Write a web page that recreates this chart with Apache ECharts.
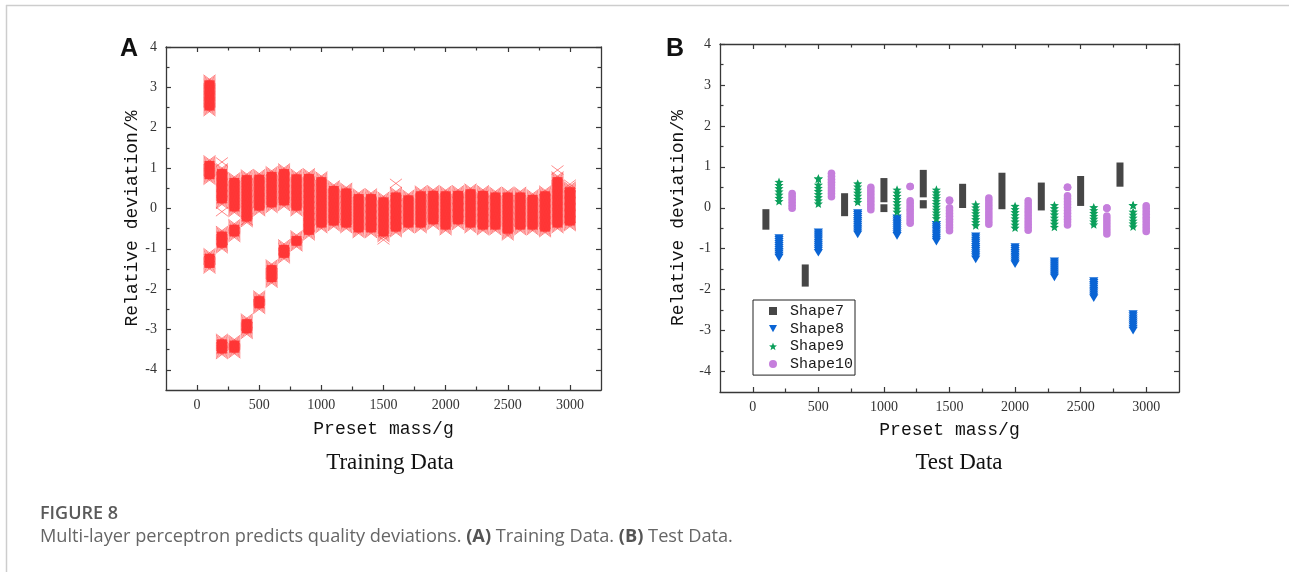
<!DOCTYPE html>
<html>
<head>
<meta charset="utf-8">
<title>Multi-layer perceptron deviations</title>
<script src="https://cdn.jsdelivr.net/npm/echarts@6/dist/echarts.min.js"></script>
<style>
  html, body { margin: 0; padding: 0; background: #ffffff; }
  #chart { width: 1289px; height: 572px; }
</style>
</head>
<body>
<div id="chart"></div>
<script>
// Axis ticks (preset mass in g, relative deviation in %)
const massTicks = [0, 500, 1000, 1500, 2000, 2500, 3000];
const massMinorTicks = [250, 750, 1250, 1750, 2250, 2750];
const devTicks = [-4, -3, -2, -1, 0, 1, 2, 3, 4];
const devMinorTicks = [-3.5, -2.5, -1.5, -0.5, 0.5, 1.5, 2.5, 3.5];

// Training data: each run of predictions at one preset mass, [mass, lowest, highest]
const trainRuns = [
  [100, 2.4, 3.2], [100, 0.7, 1.2], [100, -1.5, -1.1],
  [200, 0.1, 1.0], [200, -1.0, -0.55], [200, -3.62, -3.22],
  [300, -0.1, 0.78], [300, -0.72, -0.38], [300, -3.6, -3.25],
  [400, -0.35, 0.85], [400, -3.12, -2.72],
  [500, -0.08, 0.86], [500, -2.5, -2.15],
  [600, 0.0, 0.93], [600, -1.85, -1.38],
  [700, 0.05, 1.0], [700, -1.25, -0.88],
  [800, -0.08, 0.87], [800, -0.95, -0.66],
  [900, -0.68, 0.88],
  [1000, -0.5, 0.8], [1100, -0.45, 0.58], [1200, -0.5, 0.52],
  [1300, -0.62, 0.38], [1400, -0.62, 0.38], [1500, -0.72, 0.3],
  [1600, -0.6, 0.42], [1700, -0.5, 0.35], [1800, -0.5, 0.45],
  [1900, -0.42, 0.46], [2000, -0.55, 0.45], [2100, -0.42, 0.46],
  [2200, -0.5, 0.5], [2300, -0.55, 0.46], [2400, -0.55, 0.42],
  [2500, -0.65, 0.42], [2600, -0.55, 0.42], [2700, -0.55, 0.36],
  [2800, -0.6, 0.45], [2900, -0.5, 0.8], [3000, -0.45, 0.55]
];
// Isolated training predictions, [mass, deviation]
const trainStray = [
  [200, 1.15], [200, -0.08], [400, -0.3], [1500, -0.78], [1600, 0.62],
  [2500, -0.68], [2900, 0.95], [3000, 0.6]
];

// Test data runs per shape, [mass, lowest, highest]
const shape7Runs = [
  [100, -0.45, -0.12], [400, -1.84, -1.47], [700, -0.12, 0.27],
  [1000, 0.22, 0.64], [1000, -0.02, 0.0], [1300, 0.34, 0.84], [1300, 0.07, 0.1],
  [1600, 0.08, 0.5], [1900, 0.05, 0.77], [2200, 0.02, 0.53],
  [2500, 0.13, 0.69], [2800, 0.6, 1.02]
];
const shape8Runs = [
  [200, -1.21, -0.73], [500, -1.09, -0.59], [800, -0.64, -0.12],
  [1100, -0.68, -0.25], [1400, -0.82, -0.41], [1700, -1.25, -0.69],
  [2000, -1.37, -0.95], [2300, -1.69, -1.3], [2600, -2.2, -1.78],
  [2900, -2.99, -2.59]
];
const shape9Runs = [
  [200, 0.15, 0.62], [500, 0.09, 0.55], [500, 0.7, 0.7], [800, 0.13, 0.58],
  [1100, -0.11, 0.43], [1400, -0.27, 0.43], [1700, -0.44, 0.07],
  [2000, -0.5, 0.03], [2300, -0.48, 0.05], [2600, -0.42, 0.0],
  [2900, -0.47, -0.11], [2900, 0.05, 0.05]
];
const shape10Runs = [
  [300, -0.01, 0.35], [600, 0.27, 0.84], [900, -0.05, 0.5],
  [1200, -0.38, 0.17], [1200, 0.52, 0.52], [1500, -0.56, 0.0], [1500, 0.18, 0.18],
  [1800, -0.4, 0.24], [2100, -0.55, 0.17], [2400, -0.42, 0.29], [2400, 0.5, 0.5],
  [2700, -0.64, -0.2], [2700, -0.01, -0.01], [3000, -0.58, 0.05]
];

const AXIS_COLOR = '#383838';
const RED = 'rgba(255, 48, 48, 0.6)';
const COLORS = { shape7: '#464646', shape8: '#0a64d4', shape9: '#0b9f5b', shape10: '#c57edc' };
const MONO = 'Liberation Mono';
const SERIF = 'Liberation Serif';

function starPoints(cx, cy, R, r) {
  const pts = [];
  for (let i = 0; i < 10; i++) {
    const a = -Math.PI / 2 + i * Math.PI / 5;
    const rad = i % 2 === 0 ? R : r;
    pts.push([cx + rad * Math.cos(a), cy + rad * Math.sin(a)]);
  }
  return pts;
}
const starIcon = 'path://' + starPoints(10, 10, 10, 4.2)
  .map((p, i) => (i ? 'L' : 'M') + p[0].toFixed(2) + ',' + p[1].toFixed(2)).join('') + 'Z';

// Column of overlapping "x" markers between the low and high value of a run
function crossRun(params, api) {
  const x = api.value(0);
  const top = api.coord([x, api.value(2)]);
  const bot = api.coord([x, api.value(1)]);
  const cx = top[0];
  const span = bot[1] - top[1];
  const n = Math.max(1, Math.round(span / 1.2));
  const children = [];
  if (span > 4) {
    children.push({
      type: 'rect',
      shape: { x: cx - 5, y: top[1] + 1, width: 10, height: span - 2 },
      style: { fill: 'rgba(255, 45, 45, 0.88)' }
    });
  }
  for (let i = 0; i <= n; i++) {
    const cy = top[1] + span * i / n;
    children.push({ type: 'line', shape: { x1: cx - 6, y1: cy - 4.5, x2: cx + 6, y2: cy + 4.5 }, style: { stroke: RED, lineWidth: 1 } });
    children.push({ type: 'line', shape: { x1: cx + 6, y1: cy - 4.5, x2: cx - 6, y2: cy + 4.5 }, style: { stroke: RED, lineWidth: 1 } });
  }
  return { type: 'group', children };
}
function crossPoint(params, api) {
  const p = api.coord([api.value(0), api.value(1)]);
  const st = { stroke: 'rgba(255, 60, 60, 0.6)', lineWidth: 1 };
  return { type: 'group', children: [
    { type: 'line', shape: { x1: p[0] - 6, y1: p[1] - 4.5, x2: p[0] + 6, y2: p[1] + 4.5 }, style: st },
    { type: 'line', shape: { x1: p[0] + 6, y1: p[1] - 4.5, x2: p[0] - 6, y2: p[1] + 4.5 }, style: st }
  ] };
}

// Column of stacked symbols between the low and high value of a run
function stackRun(kind, color) {
  return function (params, api) {
    const x = api.value(0);
    const top = api.coord([x, api.value(2)]);
    const bot = api.coord([x, api.value(1)]);
    const cx = top[0];
    const span = bot[1] - top[1];
    const children = [];
    if (kind === 'square') {
      children.push({ type: 'rect', shape: { x: cx - 3.5, y: top[1] - 3.5, width: 7, height: span + 7 }, style: { fill: color } });
    } else {
      const step = kind === 'triangle' ? 2 : 3;
      const n = Math.max(1, Math.round(span / step));
      for (let i = 0; i <= n; i++) {
        const cy = top[1] + span * i / n;
        if (kind === 'circle') {
          children.push({ type: 'circle', shape: { cx, cy, r: 3.8 }, style: { fill: color } });
        } else if (kind === 'triangle') {
          children.push({ type: 'polygon', shape: { points: [[cx - 4.6, cy - 3.5], [cx + 4.6, cy - 3.5], [cx, cy + 4.2]] }, style: { fill: color } });
        } else {
          children.push({ type: 'polygon', shape: { points: starPoints(cx, cy, 4.8, 2.1) }, style: { fill: color } });
        }
      }
    }
    return { type: 'group', children };
  };
}

const tickLine = { color: AXIS_COLOR, width: 1.2 };
const axisLineOn = { show: true, onZero: false, lineStyle: { color: AXIS_COLOR, width: 1.3 } };
const axisLineOff = { show: false, onZero: false };
const tickLabel = { fontFamily: SERIF, fontSize: 14, color: '#333', formatter: (v) => String(v) };
const nameStyle = { fontFamily: MONO, fontSize: 18, color: '#111' };

function massAxes(grid, nameGap) {
  const base = { type: 'value', gridIndex: grid, min: -250, max: 3250, splitLine: { show: false } };
  return [
    Object.assign({}, base, {
      position: 'bottom', axisLine: axisLineOn,
      axisTick: { show: true, inside: true, length: 5, customValues: massTicks, lineStyle: tickLine },
      axisLabel: Object.assign({ show: true, customValues: massTicks, margin: 8 }, tickLabel),
      name: 'Preset mass/g', nameLocation: 'middle', nameGap, nameTextStyle: nameStyle
    }),
    Object.assign({}, base, {
      position: 'bottom', axisLine: axisLineOff,
      axisTick: { show: true, inside: true, length: 3.5, customValues: massMinorTicks, lineStyle: tickLine },
      axisLabel: { show: false }
    }),
    Object.assign({}, base, {
      position: 'top', axisLine: axisLineOn,
      axisTick: { show: true, inside: true, length: 5, customValues: massTicks, lineStyle: tickLine },
      axisLabel: { show: false }
    }),
    Object.assign({}, base, {
      position: 'top', axisLine: axisLineOff,
      axisTick: { show: true, inside: true, length: 3.5, customValues: massMinorTicks, lineStyle: tickLine },
      axisLabel: { show: false }
    })
  ];
}
function devAxes(grid, nameGap) {
  const base = { type: 'value', gridIndex: grid, min: -4.5, max: 4, splitLine: { show: false } };
  return [
    Object.assign({}, base, {
      position: 'left', axisLine: axisLineOn,
      axisTick: { show: true, inside: true, length: 5, customValues: devTicks, lineStyle: tickLine },
      axisLabel: Object.assign({ show: true, customValues: devTicks, margin: 9 }, tickLabel),
      name: 'Relative deviation/%', nameLocation: 'middle', nameGap, nameTextStyle: nameStyle
    }),
    Object.assign({}, base, {
      position: 'left', axisLine: axisLineOff,
      axisTick: { show: true, inside: true, length: 3.5, customValues: devMinorTicks, lineStyle: tickLine },
      axisLabel: { show: false }
    }),
    Object.assign({}, base, {
      position: 'right', axisLine: axisLineOn,
      axisTick: { show: true, inside: true, length: 5, customValues: devTicks, lineStyle: tickLine },
      axisLabel: { show: false }
    }),
    Object.assign({}, base, {
      position: 'right', axisLine: axisLineOff,
      axisTick: { show: true, inside: true, length: 3.5, customValues: devMinorTicks, lineStyle: tickLine },
      axisLabel: { show: false }
    })
  ];
}

const chart = echarts.init(document.getElementById('chart'), null, { renderer: 'canvas' });

chart.setOption({
  animation: false,
  backgroundColor: '#ffffff',
  grid: [
    { left: 166, top: 47, width: 435, height: 343, outerBoundsMode: 'none' },
    { left: 720, top: 44, width: 459, height: 348, outerBoundsMode: 'none' }
  ],
  xAxis: massAxes(0, 30).concat(massAxes(1, 29)),
  yAxis: devAxes(0, 23).concat(devAxes(1, 33)),
  legend: {
    left: 753, top: 300, orient: 'vertical',
    backgroundColor: '#ffffff', borderColor: '#222', borderWidth: 1, borderRadius: 0,
    padding: [3.5, 2, 3.5, 16], itemGap: 2.7, itemWidth: 8, itemHeight: 8,
    selectedMode: false,
    textStyle: { fontFamily: MONO, fontSize: 15, color: '#1a1a1a', padding: [0, 0, 0, 8] },
    data: [
      { name: 'Shape7', icon: 'path://M0,0H10V10H0Z' },
      { name: 'Shape8', icon: 'path://M0,0H10L5,9Z' },
      { name: 'Shape9', icon: starIcon },
      { name: 'Shape10', icon: 'path://M5,0A5,5,0,1,1,5,10A5,5,0,1,1,5,0Z' }
    ]
  },
  series: [
    { type: 'custom', name: 'Training runs', xAxisIndex: 0, yAxisIndex: 0, renderItem: crossRun, data: trainRuns, silent: true },
    { type: 'custom', name: 'Training stray', xAxisIndex: 0, yAxisIndex: 0, renderItem: crossPoint, data: trainStray, silent: true },
    { type: 'custom', name: 'Shape7', xAxisIndex: 4, yAxisIndex: 4, itemStyle: { color: COLORS.shape7 }, renderItem: stackRun('square', COLORS.shape7), data: shape7Runs, silent: true },
    { type: 'custom', name: 'Shape8', xAxisIndex: 4, yAxisIndex: 4, itemStyle: { color: COLORS.shape8 }, renderItem: stackRun('triangle', COLORS.shape8), data: shape8Runs, silent: true },
    { type: 'custom', name: 'Shape9', xAxisIndex: 4, yAxisIndex: 4, itemStyle: { color: COLORS.shape9 }, renderItem: stackRun('star', COLORS.shape9), data: shape9Runs, silent: true },
    { type: 'custom', name: 'Shape10', xAxisIndex: 4, yAxisIndex: 4, itemStyle: { color: COLORS.shape10 }, renderItem: stackRun('circle', COLORS.shape10), data: shape10Runs, silent: true }
  ],
  graphic: [
    // outer figure frame
    { type: 'line', silent: true, shape: { x1: 6, y1: 5.5, x2: 1289, y2: 5.5 }, style: { stroke: '#cdcdcd', lineWidth: 1.5 } },
    { type: 'line', silent: true, shape: { x1: 6.5, y1: 5, x2: 6.5, y2: 572 }, style: { stroke: '#cdcdcd', lineWidth: 1.5 } },
    // panel letters
    { type: 'text', silent: true, x: 120, y: 49, style: { text: 'A', fontFamily: 'Liberation Sans', fontWeight: 'bold', fontSize: 25, fill: '#111', textVerticalAlign: 'middle' } },
    { type: 'text', silent: true, x: 666, y: 49, style: { text: 'B', fontFamily: 'Liberation Sans', fontWeight: 'bold', fontSize: 25, fill: '#111', textVerticalAlign: 'middle' } },
    // panel subtitles
    { type: 'text', silent: true, x: 390, y: 463, style: { text: 'Training Data', fontFamily: SERIF, fontSize: 23, fill: '#111', textAlign: 'center', textVerticalAlign: 'middle' } },
    { type: 'text', silent: true, x: 959, y: 463, style: { text: 'Test Data', fontFamily: SERIF, fontSize: 23, fill: '#111', textAlign: 'center', textVerticalAlign: 'middle' } },
    // figure caption
    { type: 'text', silent: true, x: 40, y: 514, style: { text: 'FIGURE 8', fontFamily: 'Open Sans', fontWeight: 600, fontSize: 18, fill: '#5a5a5a', textVerticalAlign: 'middle' } },
    { type: 'text', silent: true, x: 40, y: 537, style: {
        text: 'Multi-layer perceptron predicts quality deviations. {b|(A)} Training Data. {b|(B)} Test Data.',
        fontFamily: 'Open Sans', fontSize: 18.2, fill: '#666', textVerticalAlign: 'middle',
        rich: { b: { fontFamily: 'Open Sans', fontSize: 18.2, fontWeight: 'bold', fill: '#555' } }
      } }
  ]
});
</script>
</body>
</html>
